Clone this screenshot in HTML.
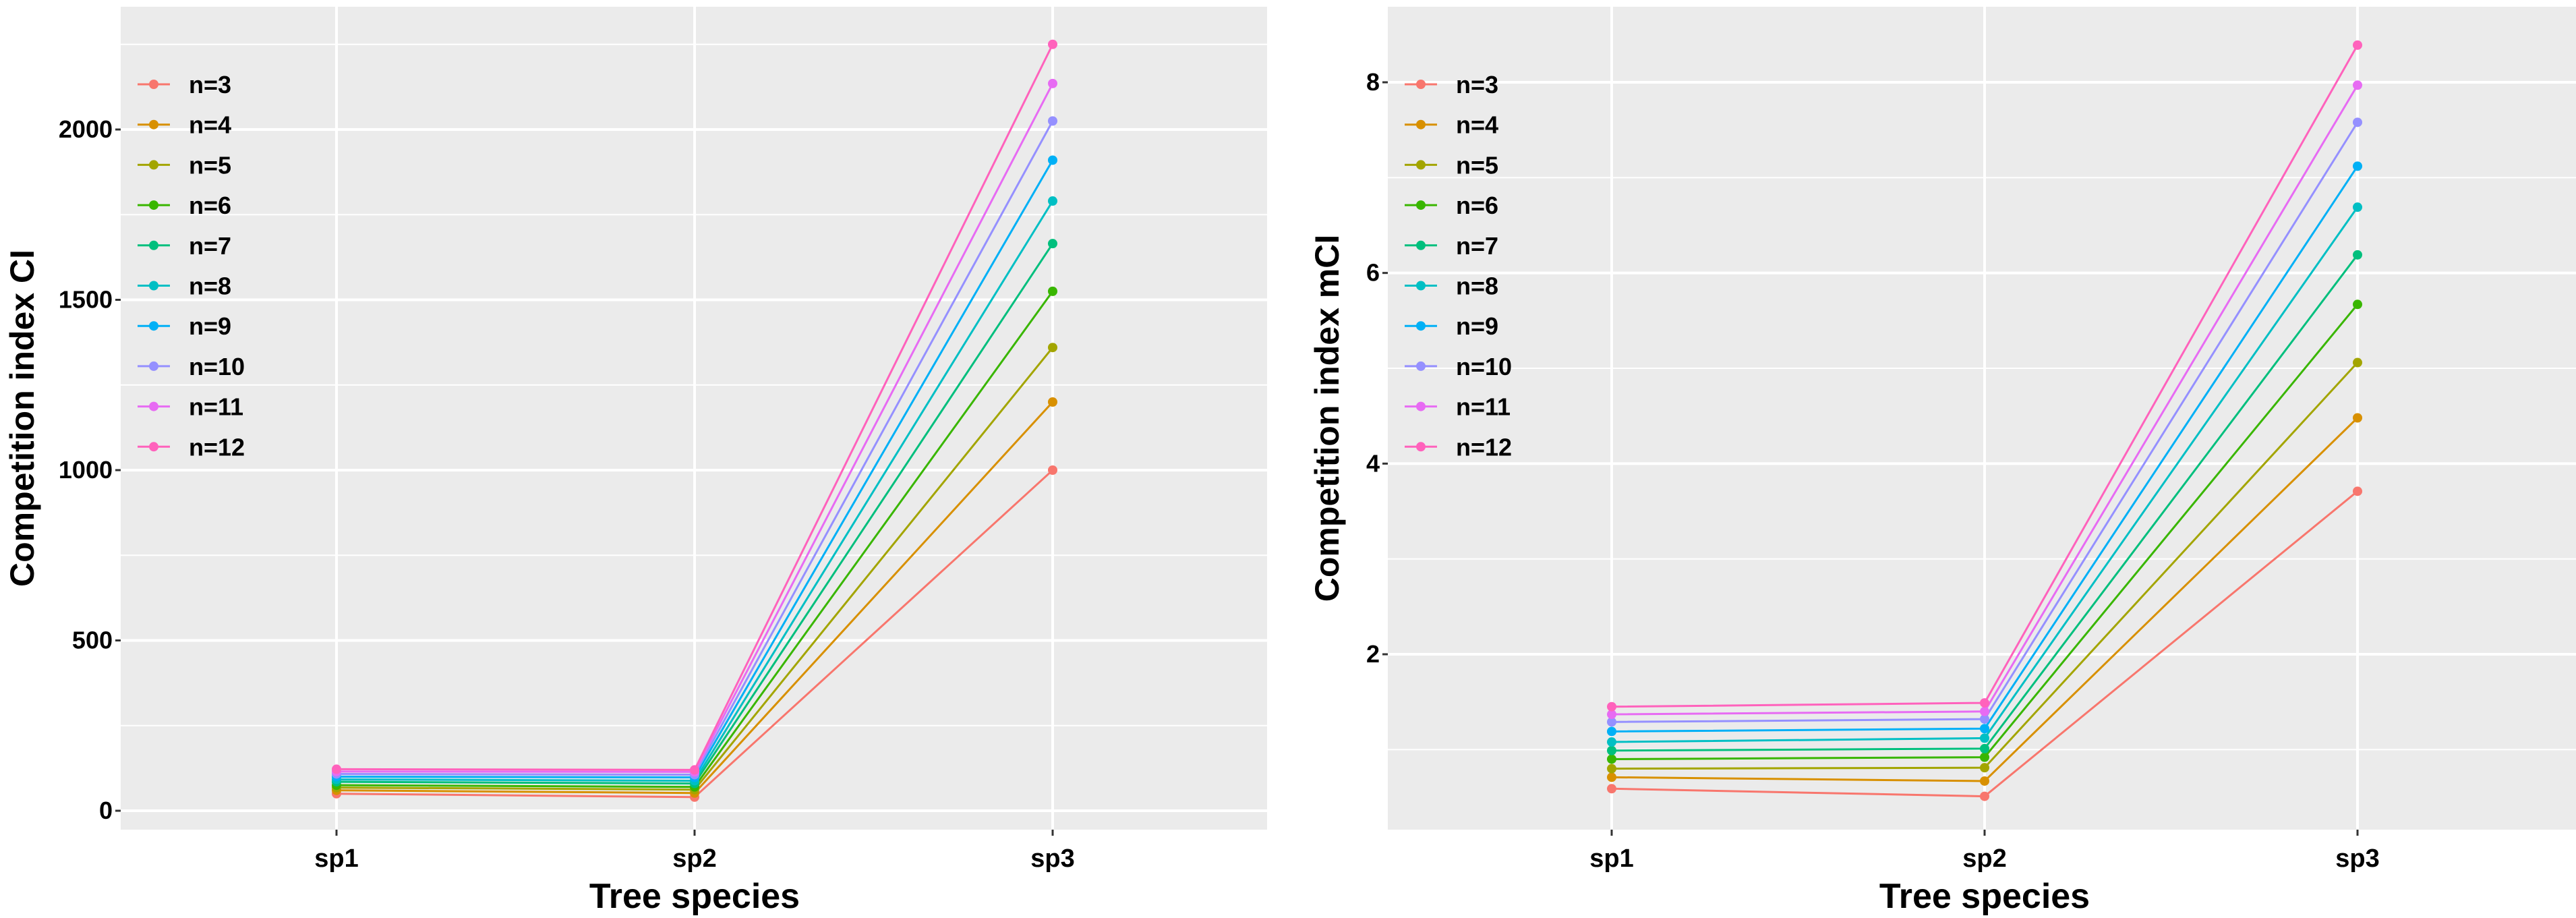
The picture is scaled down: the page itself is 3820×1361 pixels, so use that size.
<!DOCTYPE html>
<html><head><meta charset="utf-8"><style>
html,body{margin:0;padding:0;background:#fff;}
svg{display:block;font-family:"Liberation Sans",Arial,sans-serif;font-weight:bold;}
</style></head><body>
<svg id="chart" width="3820" height="1361" viewBox="0 0 3820 1361"></svg>
<script>
const categories = ["sp1","sp2","sp3"];
const seriesNames = ["n=3","n=4","n=5","n=6","n=7","n=8","n=9","n=10","n=11","n=12"];
const colors = ["#F8766D","#D89000","#A3A500","#39B600","#00BF7D","#00BFC4","#00B0F6","#9590FF","#E76BF3","#FF62BC"];
const ciSp1 = [50,60,68,75,85,92,100,108,115,122];
const ciSp2 = [40,52,62,70,80,88,98,106,114,120];
const ciSp3 = [1000,1200,1360,1525,1665,1790,1910,2025,2135,2250];
const ciMajorTicks = [0,500,1000,1500,2000];
const ciMinorTicks = [250,750,1250,1750,2250];
const mciSp1 = [0.59,0.71,0.80,0.90,0.99,1.08,1.19,1.29,1.37,1.45];
const mciSp2 = [0.51,0.67,0.81,0.92,1.01,1.12,1.22,1.32,1.40,1.49];
const mciSp3 = [3.71,4.48,5.06,5.67,6.19,6.69,7.12,7.58,7.97,8.39];
const mciMajorTicks = [2,4,6,8];
const mciMinorTicks = [1,3,5,7];

const NS="http://www.w3.org/2000/svg";
const svg=document.getElementById('chart');
function mk(tag,attrs,parent,text){const e=document.createElementNS(NS,tag);for(const k in attrs)e.setAttribute(k,attrs[k]);if(text!==undefined)e.textContent=text;(parent||svg).appendChild(e);return e;}

function panel(cfg){
  const g=mk('g',{});
  
  
  const {left,right,top,bottom}=cfg;
  const bg=mk('rect',{x:left,y:top,width:right-left,height:bottom-top,fill:'#EBEBEB'},g);
  
  
  const yS=v=>cfg.y0px+(v-cfg.y0)*(cfg.y1px-cfg.y0px)/(cfg.y1-cfg.y0);
  const xS=i=>cfg.xFirst+i*cfg.xStep;
  cfg.minor.forEach(v=>{const l=mk('line',{x1:left,x2:right,y1:yS(v),y2:yS(v),stroke:'#fff','stroke-width':2},g);
    });
  cfg.major.forEach(v=>{const l=mk('line',{x1:left,x2:right,y1:yS(v),y2:yS(v),stroke:'#fff','stroke-width':4},g);
    
    const t=mk('line',{x1:left-8,x2:left,y1:yS(v),y2:yS(v),stroke:'#333','stroke-width':3},g);
    
    const tx=mk('text',{x:left-12,y:yS(v)+12,'text-anchor':'end','font-size':36,fill:'#000'},g,String(v));
    });
  categories.forEach((c,i)=>{const l=mk('line',{x1:xS(i),x2:xS(i),y1:top,y2:bottom,stroke:'#fff','stroke-width':4},g);
    
    const t=mk('line',{x1:xS(i),x2:xS(i),y1:bottom,y2:bottom+9,stroke:'#333','stroke-width':3},g);
    
    const tx=mk('text',{x:xS(i),y:bottom+55,'text-anchor':'middle','font-size':38,fill:'#000'},g,c);
    });
  seriesNames.forEach((n,k)=>{
    const vals=[cfg.d1[k],cfg.d2[k],cfg.d3[k]];
    const pts=vals.map((v,i)=>xS(i)+','+yS(v)).join(' ');
    const pl=mk('polyline',{points:pts,fill:'none',stroke:colors[k],'stroke-width':3},g);
    
    vals.forEach((v,i)=>{const c=mk('circle',{cx:xS(i),cy:yS(v),r:7,fill:colors[k]},g);
      });
  });
  // legend
  const lg=mk('g',{},g);
  
  seriesNames.forEach((n,k)=>{const y=cfg.legY+k*59.7;
    const e=mk('g',{},lg);
    
    mk('line',{x1:cfg.legX-24,x2:cfg.legX+24,y1:y,y2:y,stroke:colors[k],'stroke-width':3},e);
    mk('circle',{cx:cfg.legX,cy:y,r:7,fill:colors[k]},e);
    mk('text',{x:cfg.legX+52,y:y+13,'font-size':36,fill:'#000'},e,n);
  });
  const yt=mk('text',{x:cfg.yTitleX,y:(top+bottom)/2,'text-anchor':'middle','font-size':50,fill:'#000',transform:`rotate(-90 ${cfg.yTitleX} ${(top+bottom)/2})`},g,cfg.yTitle);
  
  const xt=mk('text',{x:xS(1),y:1346,'text-anchor':'middle','font-size':52,fill:'#000'},g,'Tree species');
  
}
panel({name:'ci-panel',left:179,right:1879,top:10,bottom:1230,y0:0,y0px:1202,y1:2000,y1px:192,
  xFirst:499,xStep:531,major:ciMajorTicks,minor:ciMinorTicks,d1:ciSp1,d2:ciSp2,d3:ciSp3,
  legX:228,legY:125,yTitleX:50,yTitle:'Competition index CI'});
panel({name:'mci-panel',left:2058,right:3820,top:10,bottom:1230,y0:2,y0px:970,y1:8,y1px:122,
  xFirst:2390,xStep:553,major:mciMajorTicks,minor:mciMinorTicks,d1:mciSp1,d2:mciSp2,d3:mciSp3,
  legX:2107,legY:125,yTitleX:1985,yTitle:'Competition index mCI'});
</script>
</body></html>
